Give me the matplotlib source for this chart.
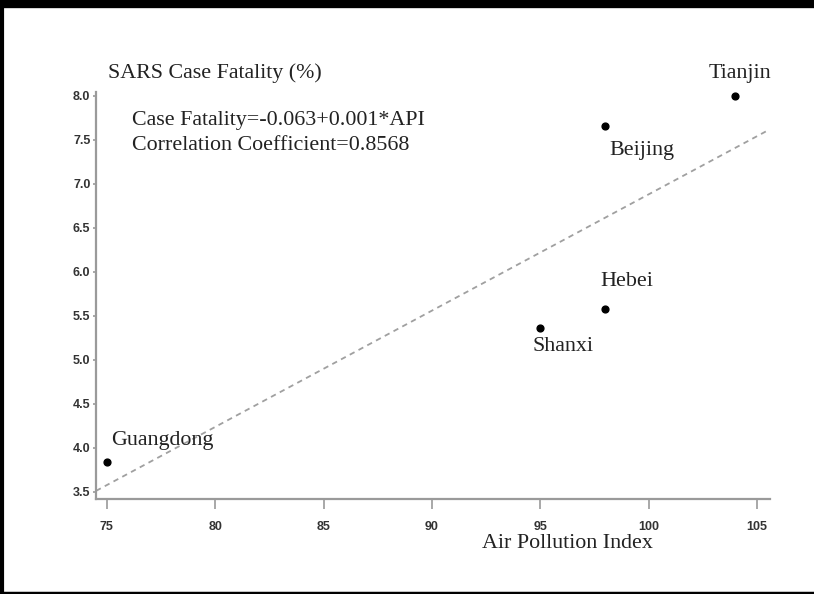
#!/usr/bin/env python3
import matplotlib
matplotlib.use("Agg")
import matplotlib.pyplot as plt
from matplotlib.lines import Line2D
import numpy as np

# data
provinces = ["Guangdong", "Shanxi", "Hebei", "Beijing", "Tianjin"]
api = [75, 95, 98, 98, 104]
fatality = [3.84, 5.36, 5.57, 7.65, 8.0]

x_ticks = [75, 80, 85, 90, 95, 100, 105]
y_ticks = [3.5, 4.0, 4.5, 5.0, 5.5, 6.0, 6.5, 7.0, 7.5, 8.0]

equation_text = "Case Fatality=-0.063+0.001*API"
corr_text = "Correlation Coefficient=0.8568"

W, H = 814, 594
fig = plt.figure(figsize=(W / 100, H / 100), dpi=100)
ax = fig.add_axes([96 / W, 1 - 499 / H, (770 - 96) / W, (499 - 92) / H])

serif = "Liberation Serif"
txt_color = "#222222"
fs = 15.8

# fitted line over the whole x range
slope, intercept = np.polyfit(api, fatality, 1)
xl = np.array([74.5, 105.45])
ax.plot(xl, intercept + slope * xl, linestyle=(0, (3, 2.5)), color="#a0a0a0", lw=1.3)

ax.scatter(api, fatality, s=24, color="black", zorder=3)

# label offsets in points (dx, dy, ha)
offsets = {"Guangdong": (3, 15, "left"), "Shanxi": (-5.3, -13.7, "left"),
           "Hebei": (-3.8, 19.7, "left"), "Beijing": (2.7, -17.3, "left"),
           "Tianjin": (3.1, 15.6, "center")}
for name, xv, yv in zip(provinces, api, fatality):
    dx, dy, ha = offsets[name]
    ax.annotate(name, (xv, yv), xytext=(dx, dy), textcoords="offset points",
                ha=ha, va="center", family=serif, fontsize=fs, color=txt_color)

fig.text(132 / W, 1 - 120 / H, equation_text, family=serif,
         fontsize=fs, color=txt_color, va="center")
fig.text(132 / W, 1 - 146 / H, corr_text, family=serif,
         fontsize=fs, color=txt_color, va="center")

ax.set_xlim(74.5, 105.6)
ax.set_ylim(3.415, 8.04)
ax.set_xticks(x_ticks)
ax.set_yticks(y_ticks)
ax.set_xticklabels([str(v) for v in x_ticks])
ax.set_yticklabels(["{:.1f}".format(v) for v in y_ticks])
for lab in ax.get_xticklabels() + ax.get_yticklabels():
    lab.set_family("Liberation Sans")
    lab.set_fontweight("bold")
    lab.set_fontsize(9)
    lab.set_color("#333333")
ax.tick_params(axis="x", length=7.2, width=1.2, color="#9a9a9a", pad=8.5)
ax.tick_params(axis="y", length=2, width=1.2, color="#9a9a9a", pad=2)

for s in ["top", "right"]:
    ax.spines[s].set_visible(False)
for s in ["left", "bottom"]:
    ax.spines[s].set_color("#9a9a9a")
    ax.spines[s].set_linewidth(1.6)

fig.text(108 / W, 1 - 73 / H, "SARS Case Fatality (%)", family=serif,
         fontsize=fs, color=txt_color, va="center")
fig.text(482 / W, 1 - 543 / H, "Air Pollution Index", family=serif,
         fontsize=fs, color=txt_color, va="center")

# black frame of the scanned figure
fig.add_artist(Line2D([0, 1], [1 - 4 / H, 1 - 4 / H], transform=fig.transFigure, color="black", lw=6))
fig.add_artist(Line2D([0, 1], [1.5 / H, 1.5 / H], transform=fig.transFigure, color="black", lw=2.5))
fig.add_artist(Line2D([2 / W, 2 / W], [0, 1], transform=fig.transFigure, color="black", lw=3))

fig.savefig("out.png", dpi=100)
